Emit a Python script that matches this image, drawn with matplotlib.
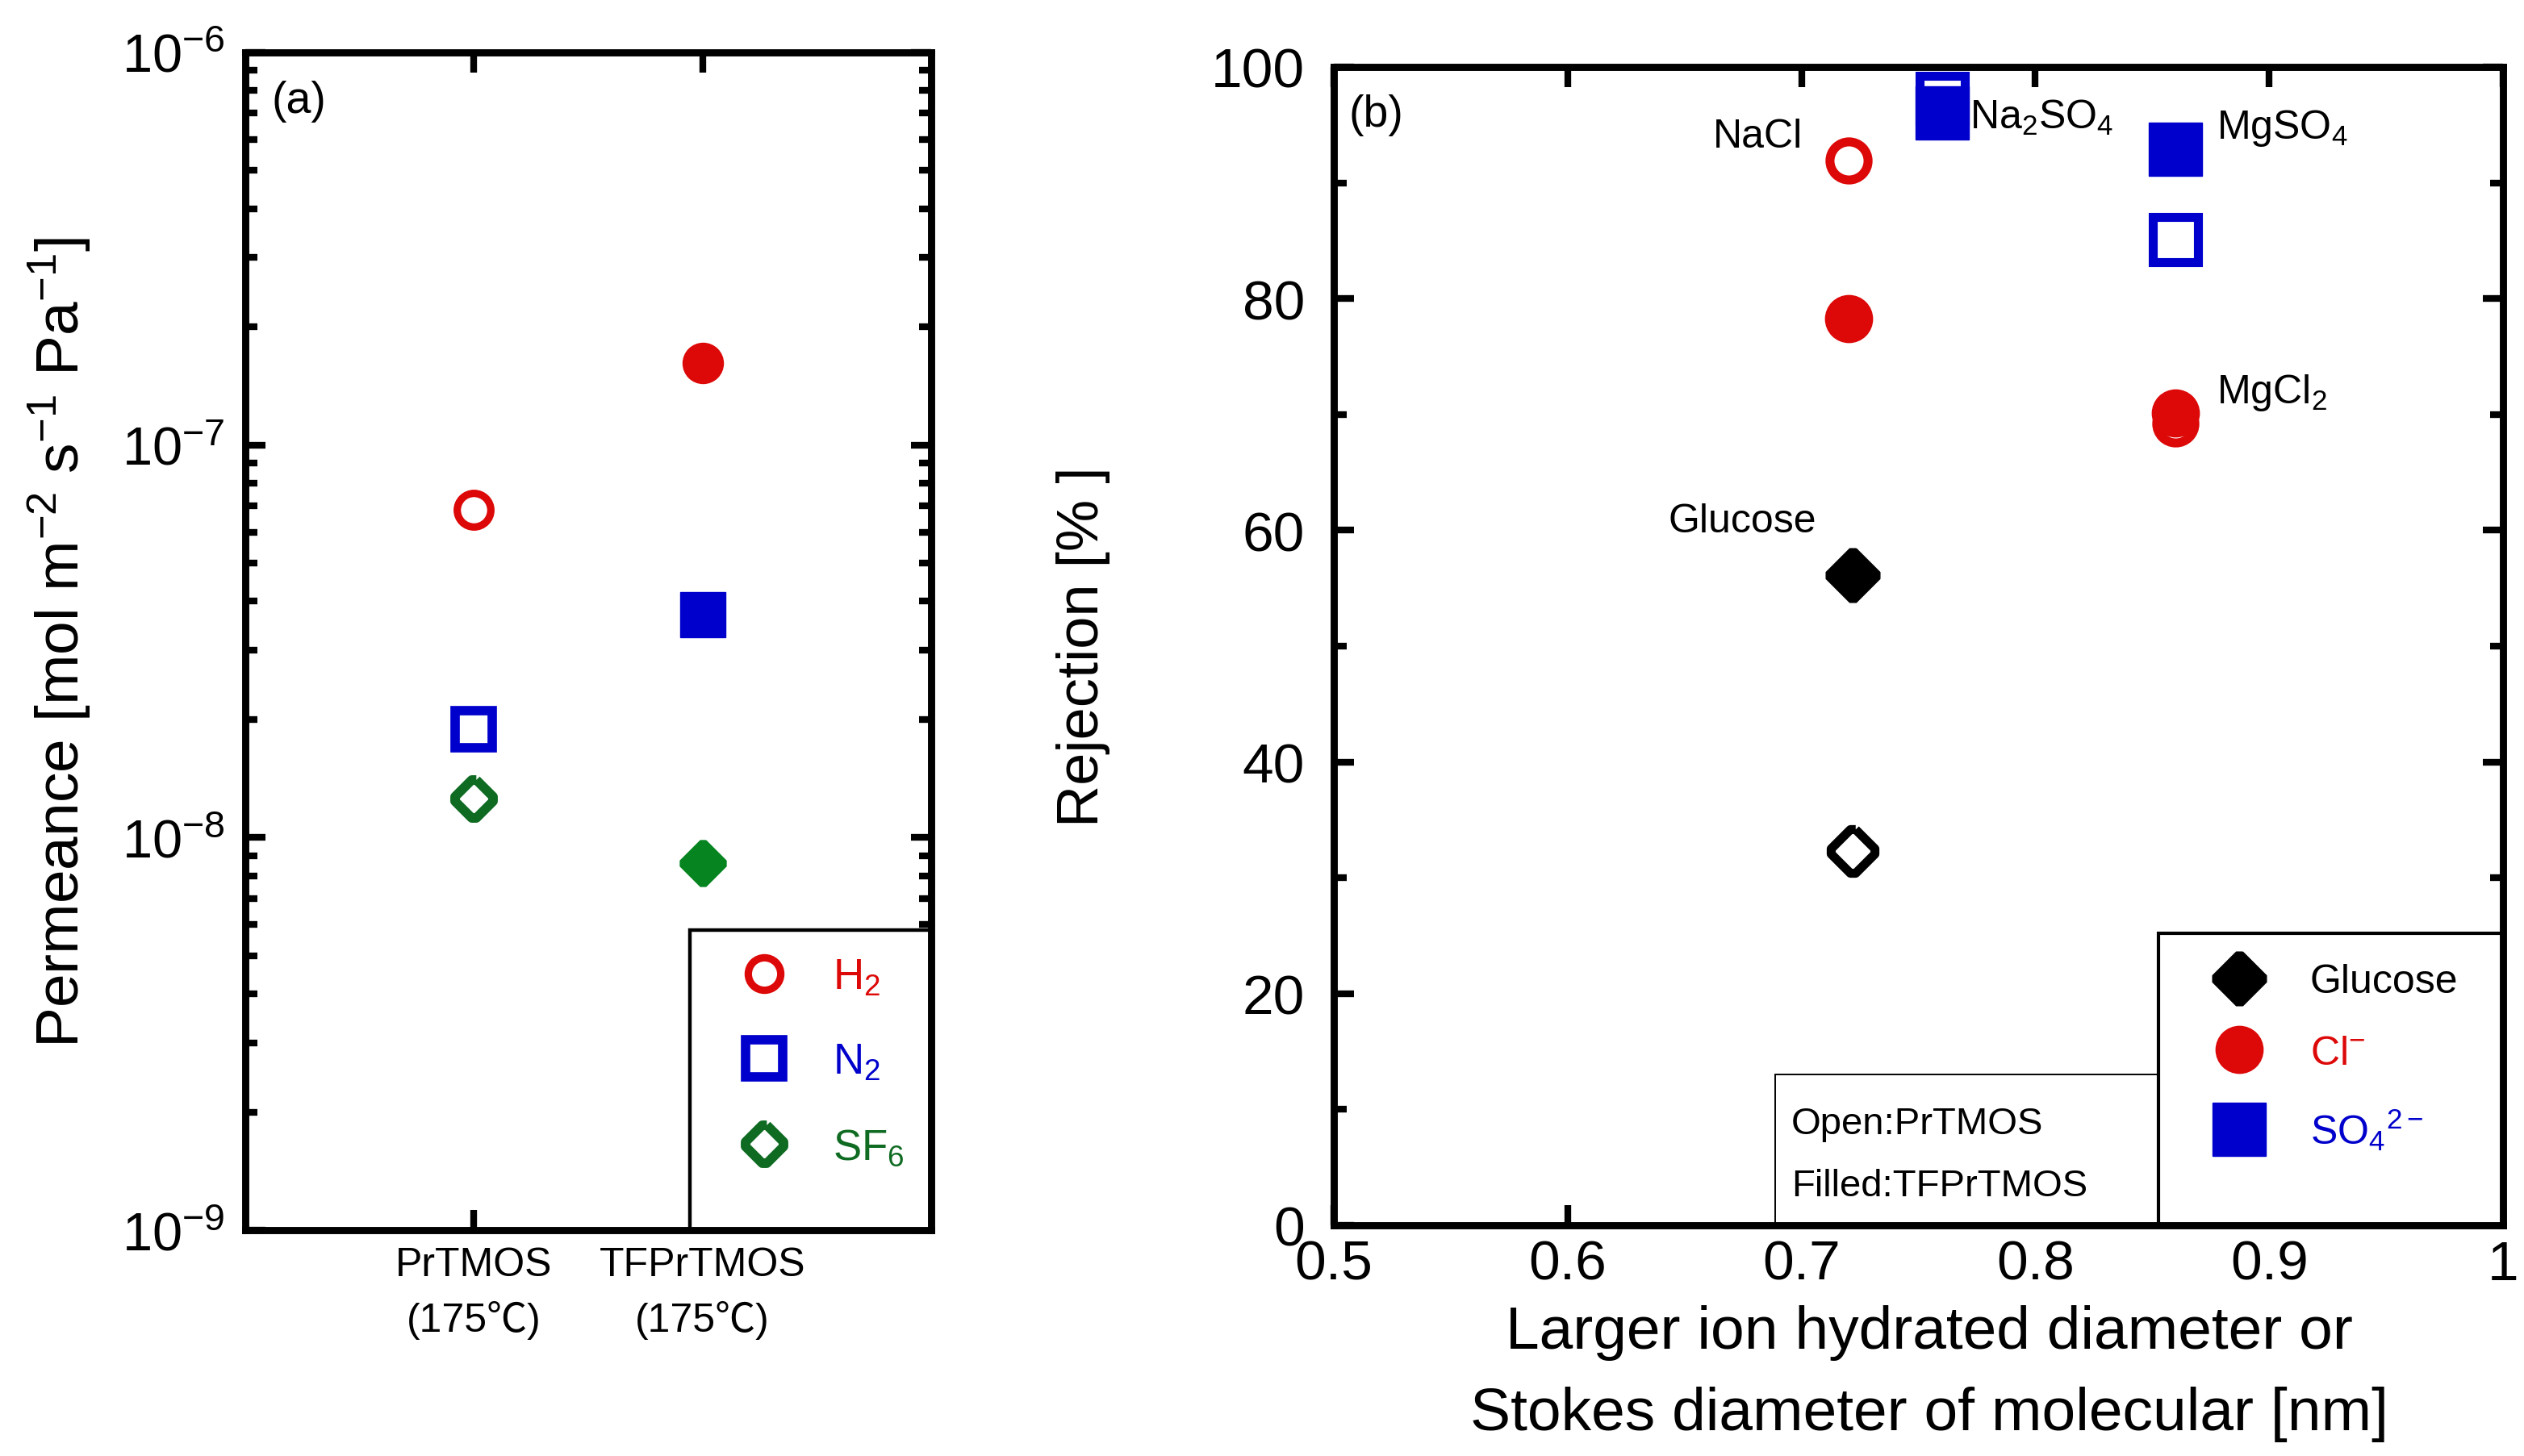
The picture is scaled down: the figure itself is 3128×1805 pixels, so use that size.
import matplotlib
matplotlib.use("Agg")
import matplotlib.pyplot as plt
from matplotlib.lines import Line2D
from matplotlib.patches import Rectangle

plt.rcParams['font.family'] = ['Liberation Sans', 'Noto Sans CJK JP']
plt.rcParams['mathtext.fontset'] = 'custom'
plt.rcParams['mathtext.rm'] = 'Liberation Sans'
plt.rcParams['mathtext.it'] = 'Liberation Sans:italic'
plt.rcParams['mathtext.bf'] = 'Liberation Sans:bold'

RED = '#DD0808'
BLUE = '#0000CC'
GREEN_OPEN = '#0F6B22'
GREEN_FILL = '#05841F'

# (a) gas permeance, open = PrTMOS, filled = TFPrTMOS
membranes = ['PrTMOS\n(175℃)', 'TFPrTMOS\n(175℃)']
mem_pos = [1, 2]
h2 = [6.85e-8, 1.62e-7]
n2 = [1.89e-8, 3.70e-8]
sf6 = [1.26e-8, 8.6e-9]

# (b) rejection vs larger ion hydrated / Stokes diameter
solutes = ['Glucose', 'NaCl', 'MgCl$_2$', 'Na$_2$SO$_4$', 'MgSO$_4$']
diam = [0.722, 0.72, 0.86, 0.76, 0.86]
rej_open = [32.3, 91.9, 69.2, 97.3, 85.1]
rej_filled = [56.1, 78.3, 70.1, 96.0, 92.9]
xticks_b = [0.5, 0.6, 0.7, 0.8, 0.9, 1.0]
xticklabels_b = ['0.5', '0.6', '0.7', '0.8', '0.9', '1']

# where the solute names go (data coords, left/baseline)
label_xy = [(0.643, 59.9), (0.662, 93.1), (0.8775, 71.0), (0.772, 94.7), (0.8775, 93.9)]

# octagon-ish diamond like the original
dia = [(0.06, 0.5), (0.5, 0.06), (0.5, -0.06), (0.06, -0.5), (-0.06, -0.5),
       (-0.5, -0.06), (-0.5, 0.06), (-0.06, 0.5), (0.06, 0.5)]

fig = plt.figure(figsize=(15.64, 9.03), dpi=200)

# ---------------- (a)
axa = fig.add_axes([0.0972, 0.155, 0.2717, 0.8085])
axa.set_yscale('log')
axa.set_ylim(1e-9, 1e-6)
axa.set_xlim(0, 3)

axa.plot(mem_pos[0], h2[0], 'o', ms=15, mfc='white', mec=RED, mew=3.3, ls='none')
axa.plot(mem_pos[1], h2[1], 'o', ms=18, mfc=RED, mec=RED, mew=0.5, ls='none')
axa.plot(mem_pos[0], n2[0], 's', ms=16.5, mfc='white', mec=BLUE, mew=4.2, ls='none')
axa.plot(mem_pos[1], n2[1], 's', ms=20.5, mfc=BLUE, mec=BLUE, mew=0.5, ls='none')
axa.plot(mem_pos[0], sf6[0], marker=dia, ms=17, mfc='white', mec=GREEN_OPEN, mew=4.2, ls='none')
axa.plot(mem_pos[1], sf6[1], marker=dia, ms=20.5, mfc=GREEN_FILL, mec=GREEN_FILL, mew=0.5, ls='none')

axa.set_xticks(mem_pos)
axa.set_xticklabels(membranes, fontsize=18)
for lbl in axa.get_xticklabels():
    lbl.set_linespacing(1.55)
axa.tick_params(axis='both', which='both', direction='in', top=True, right=True, width=3)
axa.tick_params(which='major', length=9)
axa.tick_params(which='minor', length=5.5)
axa.tick_params(axis='y', labelsize=24, pad=9)
axa.tick_params(axis='x', pad=7)
axa.set_ylabel('Permeance [mol m$^{-2}$ s$^{-1}$ Pa$^{-1}$]', fontsize=27)
axa.yaxis.set_label_coords(-0.223, 0.5)
axa.text(0.038, 0.977, '(a)', transform=axa.transAxes, fontsize=20, va='top', ha='left')

axa.add_patch(Rectangle((0.648, 0.0), 0.352, 0.2548, transform=axa.transAxes,
                        facecolor='white', edgecolor='black', lw=1.6, zorder=4))
hand_a = [Line2D([], [], marker='o', ms=14.5, mfc='white', mec=RED, mew=3.3, ls='none'),
          Line2D([], [], marker='s', ms=16.5, mfc='white', mec=BLUE, mew=4.2, ls='none'),
          Line2D([], [], marker=dia, ms=17, mfc='white', mec=GREEN_OPEN, mew=4.2, ls='none')]
leg_a = axa.legend(hand_a, ['H$_2$', 'N$_2$', 'SF$_6$'], loc='upper left',
                   bbox_to_anchor=(0.726, 0.232), frameon=False, fontsize=19,
                   borderpad=0, borderaxespad=0, handlelength=1.0, handletextpad=1.1,
                   labelspacing=1.05)
for t, c in zip(leg_a.get_texts(), [RED, BLUE, GREEN_OPEN]):
    t.set_color(c)
leg_a.set_zorder(5)

# ---------------- (b)
axb = fig.add_axes([0.5285, 0.1584, 0.4632, 0.7951])
axb.set_xlim(0.5, 1.0)
axb.set_ylim(0, 100)

styles = [('k', 'k', dia, 19.5, 24),
          (RED, RED, 'o', 17, 21),
          (RED, RED, 'o', 17, 21),
          (BLUE, BLUE, 's', 20, 24),
          (BLUE, BLUE, 's', 20, 24)]
for i, (ec, fc, mk, ms_open, ms_fill) in enumerate(styles):
    axb.plot(diam[i], rej_open[i], marker=mk, ms=ms_open, mfc='white', mec=ec, mew=4.0, ls='none')
    axb.plot(diam[i], rej_filled[i], marker=mk, ms=ms_fill, mfc=fc, mec=fc, mew=0.5, ls='none')
    axb.text(label_xy[i][0], label_xy[i][1], solutes[i], fontsize=18, va='baseline', ha='left')

axb.set_xticks(xticks_b)
axb.set_xticklabels(xticklabels_b)
axb.set_yticks(range(0, 101, 20))
axb.set_yticks(range(10, 100, 20), minor=True)
axb.tick_params(axis='both', which='both', direction='in', top=True, right=True, width=3)
axb.tick_params(which='major', length=9)
axb.tick_params(which='minor', length=5.8)
axb.tick_params(axis='x', labelsize=25, pad=6)
axb.tick_params(axis='y', labelsize=25, pad=13)
axb.set_ylabel('Rejection [% ]', fontsize=26)
axb.yaxis.set_label_coords(-0.191, 0.5)
axb.set_xlabel('Larger ion hydrated diameter or\nStokes diameter of molecular [nm]',
               fontsize=27, linespacing=1.6)
axb.xaxis.set_label_coords(0.509, -0.068)
axb.text(0.013, 0.977, '(b)', transform=axb.transAxes, fontsize=20, va='top', ha='left')

axb.add_patch(Rectangle((0.3775, 0.0), 0.3278, 0.1302, transform=axb.transAxes,
                        facecolor='white', edgecolor='black', lw=0.7, zorder=4))
axb.text(0.391, 0.0794, 'Open:PrTMOS', transform=axb.transAxes, fontsize=17,
         va='baseline', ha='left', zorder=5)
axb.text(0.391, 0.0258, 'Filled:TFPrTMOS', transform=axb.transAxes, fontsize=17,
         va='baseline', ha='left', zorder=5)

axb.add_patch(Rectangle((0.7053, 0.0), 0.2947, 0.2521, transform=axb.transAxes,
                        facecolor='white', edgecolor='black', lw=1.5, zorder=4))
hand_b = [Line2D([], [], marker=dia, ms=24, mfc='k', mec='k', mew=0.5, ls='none'),
          Line2D([], [], marker='o', ms=21, mfc=RED, mec=RED, mew=0.5, ls='none'),
          Line2D([], [], marker='s', ms=24, mfc=BLUE, mec=BLUE, mew=0.5, ls='none')]
leg_b = axb.legend(hand_b, ['Glucose', 'Cl$^{-}$', 'SO$_4$$^{2-}$'], loc='upper left',
                   bbox_to_anchor=(0.7567, 0.226), frameon=False, fontsize=18,
                   borderpad=0, borderaxespad=0, handlelength=1.0, handletextpad=1.26,
                   labelspacing=0.85)
for t, c in zip(leg_b.get_texts(), ['k', RED, BLUE]):
    t.set_color(c)
leg_b.set_zorder(5)

for ax in (axa, axb):
    for sp in ax.spines.values():
        sp.set_linewidth(3.2)
        sp.set_zorder(6)

fig.savefig('out.png', dpi=200)
